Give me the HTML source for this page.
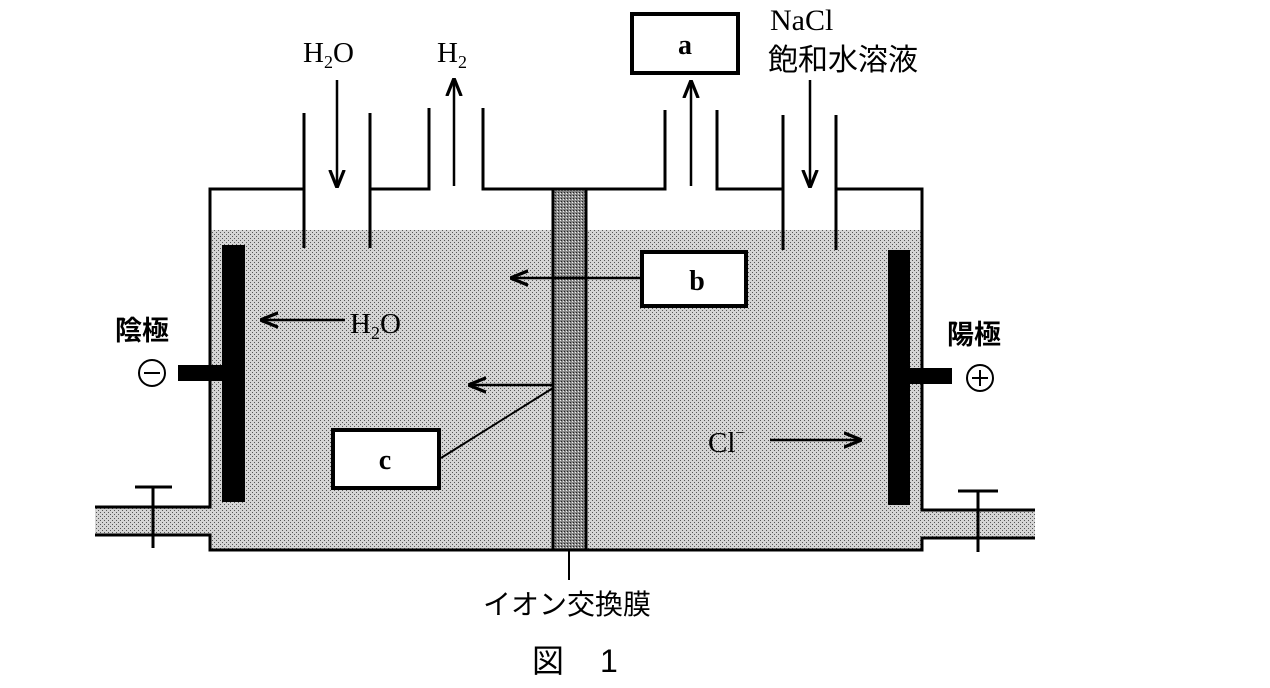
<!DOCTYPE html>
<html><head><meta charset="utf-8"><style>
html,body{margin:0;padding:0;background:#fff;width:1270px;height:688px;overflow:hidden}
svg{display:block}
text{font-family:"Liberation Serif","Noto Serif CJK SC",serif;fill:#000}
.j{font-family:"Liberation Sans","Noto Sans CJK JP",sans-serif}
</style></head><body>
<svg width="1270" height="688" viewBox="0 0 1270 688" xmlns="http://www.w3.org/2000/svg">
<defs>
<pattern id="st" width="4" height="4" patternUnits="userSpaceOnUse">
<rect width="4" height="4" fill="#d4d4d4"/>
<rect x="0" y="0" width="1" height="1" fill="#555"/>
<rect x="2" y="2" width="1" height="1" fill="#555"/>
</pattern>
<pattern id="mb" width="3" height="3" patternUnits="userSpaceOnUse">
<rect width="3" height="3" fill="#888"/>
<rect x="0" y="0" width="1" height="1" fill="#222"/>
<rect x="2" y="1" width="1" height="1" fill="#eee"/>
</pattern>
<marker id="ah" viewBox="0 0 10 10" refX="9" refY="5" markerWidth="18" markerHeight="18" markerUnits="userSpaceOnUse" orient="auto">
<path d="M0,1 L10,5 L0,9" fill="none" stroke="#000" stroke-width="1.8"/>
</marker>
</defs>
<path d="M210,230 H922 V510 H1035 V538 H922 V550 H210 V535 H95 V507 H210 Z" fill="url(#st)"/>
<rect x="553" y="189" width="33" height="361" fill="url(#mb)" stroke="#000" stroke-width="3"/>
<g stroke="#000" stroke-width="3" fill="none">
<path d="M304,113 V248 M370,113 V248"/>
<path d="M304,189 H210 V507 H95 M95,535 H210 V550 H922 V538 H1035 M1035,510 H922 V189 H836 M836,115 V250 M783,115 V250 M783,189 H717 V110 M665,110 V189 H483 V108 M429,108 V189 H370"/>
<line x1="569" y1="550" x2="569" y2="580" stroke-width="2"/>
<path d="M135,487 H172 M153,487 V548"/>
<path d="M958,491 H998 M978,491 V552"/>
</g>
<rect x="222" y="245" width="23" height="257" fill="#000"/>
<rect x="178" y="365" width="44" height="16" fill="#000"/>
<rect x="888" y="250" width="22" height="255" fill="#000"/>
<rect x="910" y="368" width="42" height="16" fill="#000"/>
<circle cx="152" cy="373" r="13" fill="none" stroke="#000" stroke-width="2"/>
<line x1="144" y1="373" x2="160" y2="373" stroke="#000" stroke-width="2"/>
<circle cx="980" cy="378" r="13" fill="none" stroke="#000" stroke-width="2"/>
<path d="M972,378 H988 M980,370 V386" stroke="#000" stroke-width="2"/>
<g stroke="#000" stroke-width="2.5" fill="none" marker-end="url(#ah)">
<line x1="337" y1="80" x2="337" y2="186"/>
<line x1="454" y1="186" x2="454" y2="80"/>
<line x1="691" y1="186" x2="691" y2="82"/>
<line x1="810" y1="80" x2="810" y2="186"/>
<line x1="345" y1="320" x2="262" y2="320"/>
<line x1="553" y1="385" x2="470" y2="385"/>
<line x1="640" y1="278" x2="512" y2="278"/>
<line x1="770" y1="440" x2="860" y2="440"/>
</g>
<line x1="441" y1="458" x2="553" y2="388" stroke="#000" stroke-width="2"/>
<g fill="#fff" stroke="#000" stroke-width="4">
<rect x="632" y="14" width="106" height="59"/>
<rect x="642" y="252" width="104" height="54"/>
<rect x="333" y="430" width="106" height="58"/>
</g>
<g font-weight="bold" font-size="28" text-anchor="middle">
<text x="685" y="54">a</text>
<text x="697" y="290">b</text>
<text x="385" y="469">c</text>
</g>
<text x="303" y="62" font-size="29">H<tspan font-size="18" dy="6">2</tspan><tspan dy="-6">O</tspan></text>
<text x="437" y="62" font-size="29">H<tspan font-size="18" dy="6">2</tspan></text>
<text x="350" y="333" font-size="29">H<tspan font-size="18" dy="6">2</tspan><tspan dy="-6">O</tspan></text>
<text x="770" y="30" font-size="30">NaCl</text>
<text x="768" y="70" font-size="30" class="j">飽和水溶液</text>
<text x="115" y="340" font-size="27" font-weight="bold" class="j">陰極</text>
<text x="947" y="344" font-size="27" font-weight="bold" class="j">陽極</text>
<text x="708" y="452" font-size="29">Cl<tspan font-size="16" dy="-14">−</tspan></text>
<text x="567" y="614" font-size="28" class="j" text-anchor="middle">イオン交換膜</text>
<text x="532" y="672" font-size="32" class="j">図</text>
<text x="600" y="672" font-size="32" class="j">1</text>
</svg>
</body></html>
